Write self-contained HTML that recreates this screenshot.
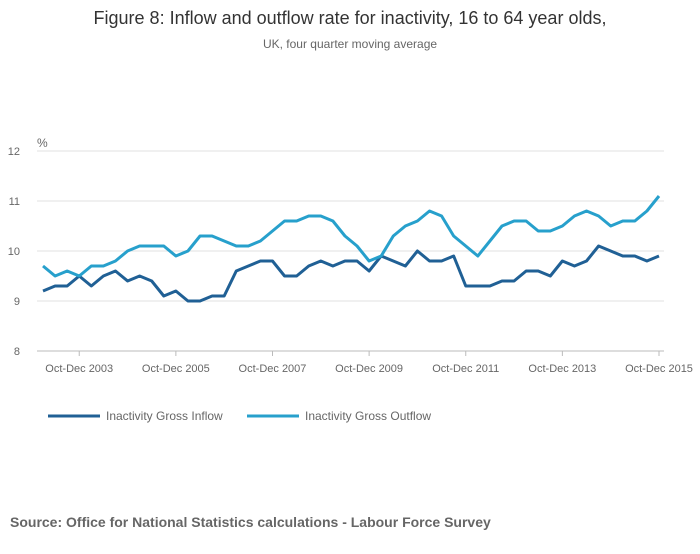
<!DOCTYPE html>
<html><head><meta charset="utf-8"><style>
body{margin:0;background:#fff;font-family:"Liberation Sans",sans-serif;}
</style></head><body>
<svg width="700" height="549" xmlns="http://www.w3.org/2000/svg">
<text x="350" y="24" text-anchor="middle" font-size="18" fill="#333">Figure 8: Inflow and outflow rate for inactivity, 16 to 64 year olds,</text>
<text x="350" y="48" text-anchor="middle" font-size="12" fill="#666">UK, four quarter moving average</text>
<text x="37" y="147" font-size="12" fill="#666">%</text>
<g id="grid"></g>
<g id="plot"></g>
<g>
<line x1="48" y1="416" x2="100" y2="416" stroke="#206095" stroke-width="3"/>
<text x="106" y="420" font-size="12" fill="#666">Inactivity Gross Inflow</text>
<line x1="247" y1="416" x2="299" y2="416" stroke="#27a0cc" stroke-width="3"/>
<text x="305" y="420" font-size="12" fill="#666">Inactivity Gross Outflow</text>
</g>
<text x="10" y="527" font-size="14" font-weight="bold" fill="#666">Source: Office for National Statistics calculations - Labour Force Survey</text>
</svg>
<script>
const inflow=[9.2,9.3,9.3,9.5,9.3,9.5,9.6,9.4,9.5,9.4,9.1,9.2,9.0,9.0,9.1,9.1,9.6,9.7,9.8,9.8,9.5,9.5,9.7,9.8,9.7,9.8,9.8,9.6,9.9,9.8,9.7,10.0,9.8,9.8,9.9,9.3,9.3,9.3,9.4,9.4,9.6,9.6,9.5,9.8,9.7,9.8,10.1,10.0,9.9,9.9,9.8,9.9];
const outflow=[9.7,9.5,9.6,9.5,9.7,9.7,9.8,10.0,10.1,10.1,10.1,9.9,10.0,10.3,10.3,10.2,10.1,10.1,10.2,10.4,10.6,10.6,10.7,10.7,10.6,10.3,10.1,9.8,9.9,10.3,10.5,10.6,10.8,10.7,10.3,10.1,9.9,10.2,10.5,10.6,10.6,10.4,10.4,10.5,10.7,10.8,10.7,10.5,10.6,10.6,10.8,11.1];
const yTicks=[8,9,10,11,12];
const xTickIdx=[3,11,19,27,35,43,51];
const xTickLabels=["Oct-Dec 2003","Oct-Dec 2005","Oct-Dec 2007","Oct-Dec 2009","Oct-Dec 2011","Oct-Dec 2013","Oct-Dec 2015"];
const NS="http://www.w3.org/2000/svg";
const x0=43,x1=659,y0=351,y1=151;
const xs=i=>x0+i*(x1-x0)/(inflow.length-1);
const ys=v=>y0-(v-8)*(y0-y1)/4;
const grid=document.getElementById('grid'),plot=document.getElementById('plot');
function mk(t,a,p){const e=document.createElementNS(NS,t);for(const k in a)e.setAttribute(k,a[k]);p.appendChild(e);return e;}
yTicks.forEach(v=>{
 const l=mk('line',{x1:37,x2:664,y1:ys(v),y2:ys(v),stroke:v===8?'#bbb':'#e0e0e0','stroke-width':1},grid);
 
 
 const t=mk('text',{x:20,y:ys(v)+4,'text-anchor':'end','font-size':11,fill:'#666'},grid);
 t.textContent=v;
 
 
});
xTickIdx.forEach((i,k)=>{
 const l=mk('line',{x1:xs(i),x2:xs(i),y1:y0,y2:y0+5,stroke:'#bbb'},grid);
 
 
 const t=mk('text',{x:xs(i),y:y0+21,'text-anchor':'middle','font-size':11,fill:'#666'},grid);
 t.textContent=xTickLabels[k];
 
 
});
function line(d,c,n){
 const p=mk('polyline',{points:d.map((v,i)=>xs(i)+','+ys(v)).join(' '),fill:'none',stroke:c,'stroke-width':3,'stroke-linejoin':'round'},plot);
 
 
}
line(inflow,'#206095','inflow-line');
line(outflow,'#27a0cc','outflow-line');
</script>
</body></html>
